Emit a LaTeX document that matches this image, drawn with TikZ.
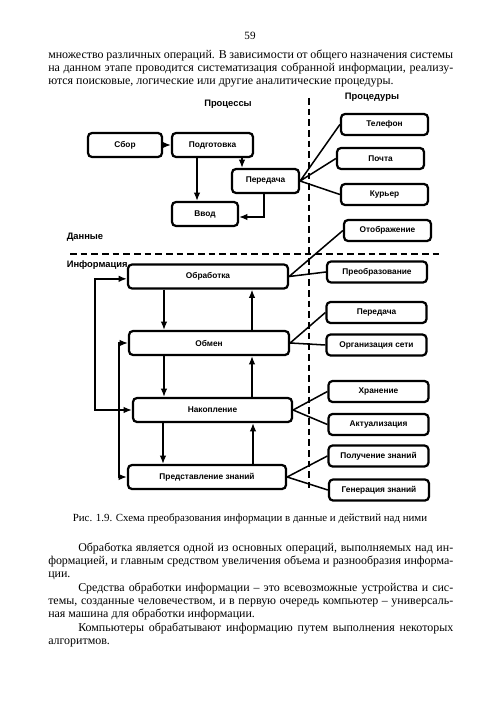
\documentclass[tikz,border=0pt]{standalone}
\usepackage{fontspec}
\setmainfont{Liberation Serif}
\newfontfamily\schemefont{Liberation Sans}
\usetikzlibrary{arrows.meta}

\begin{document}
\begin{tikzpicture}[x=0.3mm,y=-0.3mm,line width=1.3pt,
     every node/.style={inner sep=0pt},
     blok/.style={draw,line width=1.9pt,rounded corners=1.2mm,fill=white,
       minimum height=7.2mm,font=\schemefont\bfseries\fontsize{7.1}{8}\selectfont},
     rblok/.style={blok,minimum width=30mm,minimum height=6.3mm},
     zag/.style={font=\schemefont\bfseries\fontsize{8}{9}\selectfont},
     strelka/.style={-{Latex[length=2.5mm,width=2mm]}},
     dvestr/.style={{Latex[length=2.5mm,width=2mm]}-{Latex[length=2.5mm,width=2mm]}},
     granica/.style={dash pattern=on 2mm off 1.2mm,line width=1.7pt},
     abzac/.style={text width=121.5mm,align=justify,anchor=north west,
       font=\fontsize{10.2}{11.1}\selectfont}]
   \useasboundingbox (0,0) rectangle (500,707);
   \node[font=\fontsize{9.5}{11}\selectfont] (str) at (250,36) {59};
   \node[abzac] (p1) at (47.5,49) {\noindent множество различных операций. В зависимости от общего назначения системы\linebreak
     на данном этапе проводится систематизация собранной информации, реализу-\linebreak
     ются поисковые, логические или другие аналитические процедуры.};

   \draw[granica] (309,98) -- (309,488)  (70,254) -- (443,254);
   \node[zag] (proc) at (228,104) {Процессы};
   \node[zag] (procd) at (372,97) {Процедуры};
   \node[zag,anchor=west] (dann) at (66,237) {Данные};
   \node[zag,anchor=west] (inf) at (66,265) {Информация};

   \node[blok,minimum width=22.2mm] (sbor) at (125,145) {Сбор};
   \node[blok,minimum width=24.3mm] (podg) at (212.5,145) {Подготовка};
   \node[blok,minimum width=20.1mm] (pered) at (265.5,181) {Передача};
   \node[blok,minimum width=19.8mm] (vvod) at (205,214) {Ввод};
   \node[rblok,minimum width=26.1mm] (tel) at (384.5,124.5) {Телефон};
   \node[rblok,minimum width=26.1mm] (pochta) at (380.5,158.5) {Почта};
   \node[rblok,minimum width=26.1mm] (kur) at (384.5,194.5) {Курьер};
   \node[rblok,minimum width=26.1mm] (otobr) at (387.5,230.5) {Отображение};

   \node[blok,minimum width=48mm] (obrab) at (208,276.5) {Обработка};
   \node[blok,minimum width=48mm] (obmen) at (209,343) {Обмен};
   \node[blok,minimum width=47.7mm] (nakop) at (212.5,410) {Накопление};
   \node[blok,minimum width=47.4mm] (pred) at (207,477) {Представление знаний};
   \node[rblok] (preobr) at (377,272) {Преобразование};
   \node[rblok] (pered2) at (376.5,312.5) {Передача};
   \node[rblok] (org) at (376.5,345) {Организация сети};
   \node[rblok] (hran) at (378.5,391.5) {Хранение};
   \node[rblok] (aktual) at (378.5,424.5) {Актуализация};
   \node[rblok] (poluch) at (378.5,456) {Получение знаний};
   \node[rblok] (gener) at (379,490) {Генерация знаний};

   \draw[strelka] (sbor) -- (podg);
   \draw[strelka] (podg.south -| 197,0) -- (vvod.north -| 197,0);
   \draw[strelka] (podg.south -| 242,0) -- (pered.north -| 242,0);
   \draw[strelka] (pered.south -| 264,0) |- ([yshift=-0.9mm]vvod.east);
   \draw (pered.east) -- (tel.west)  (pered.east) -- (pochta.west)
         (pered.east) -- (kur.west);

   \draw[strelka] (obrab.south -| 164,0) -- (obmen.north -| 164,0);
   \draw[strelka] (obmen.north -| 252,0) -- (obrab.south -| 252,0);
   \draw[strelka] (obmen.south -| 164,0) -- (nakop.north -| 164,0);
   \draw[strelka] (nakop.north -| 252,0) -- (obmen.south -| 252,0);
   \draw[strelka] (nakop.south -| 163,0) -- (pred.north -| 163,0);
   \draw[strelka] (pred.north -| 253,0) -- (nakop.south -| 253,0);
   \draw[dvestr] ([yshift=-0.7mm]obrab.west) -| (95,345) |- (nakop.west);
   \draw[dvestr] (obmen.west) -| (119,400) |- (pred.west);

   \draw (obrab.east) -- (otobr.west)  (obrab.east) -- (preobr.west)
         (obmen.east) -- (pered2.west)  (obmen.east) -- (org.west)
         (nakop.east) -- (hran.west)  (nakop.east) -- (aktual.west)
         (pred.east) -- (poluch.west)  (pred.east) -- (gener.west);

   \node[font=\fontsize{9.3}{11}\selectfont] (podp) at (250,519)
     {Рис. 1.9. Схема преобразования информации в данные и действий над ними};
   \node[abzac] (p2) at (47.5,542) {\hspace*{9mm}Обработка является одной из основных операций, выполняемых над ин-\linebreak
     формацией, и главным средством увеличения объема и разнообразия информа-\linebreak
     ции.};
   \node[abzac] (p3) at (47.5,582) {\hspace*{9mm}Средства обработки информации -- это всевозможные устройства и сис-\linebreak
     темы, созданные человечеством, и в первую очередь компьютер -- универсаль-\linebreak
     ная машина для обработки информации.};
   \node[abzac] (p4) at (47.5,622) {\hspace*{9mm}Компьютеры обрабатывают информацию путем выполнения некоторых\linebreak
     алгоритмов.};
\end{tikzpicture}
\end{document}
